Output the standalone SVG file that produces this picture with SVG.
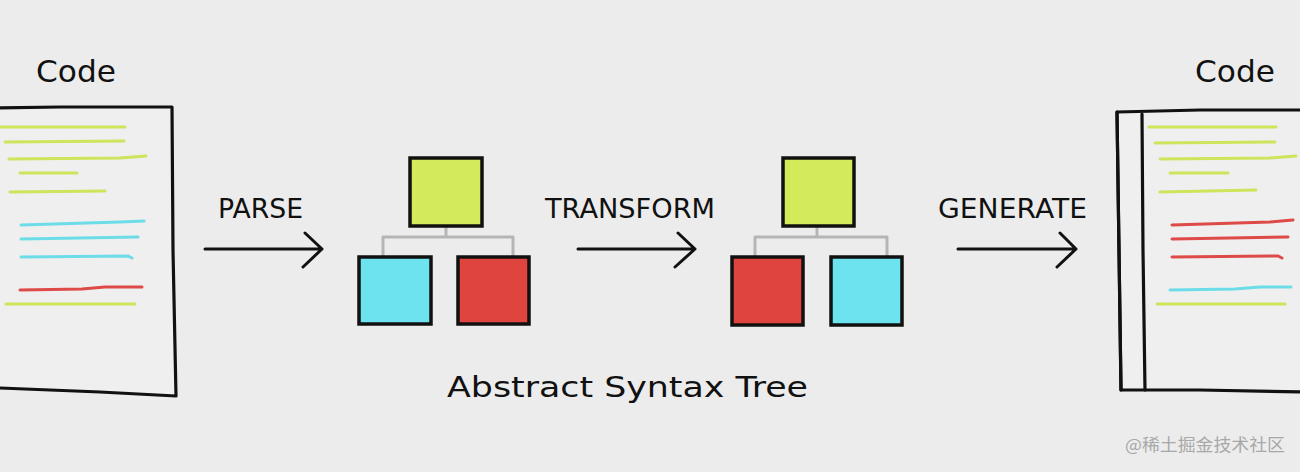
<svg xmlns="http://www.w3.org/2000/svg" width="1300" height="472" viewBox="0 0 1300 472">
<style>
.bg{fill:#ececec}
.doc{fill:#efefef;stroke:#111;stroke-width:3.2;stroke-linejoin:round;stroke-linecap:round}
.ln{fill:none;stroke-width:3;stroke-linecap:round}
.y{stroke:#cfe35b}
.c{stroke:#6cdde8}
.r{stroke:#dd4a47}
.sq{stroke:#111;stroke-width:3.5}
.fy{fill:#d3ea5b}
.fc{fill:#6ce3ee}
.fr{fill:#e0443f}
.tree{fill:none;stroke:#b5b5b5;stroke-width:3;stroke-linejoin:round}
.arr{fill:none;stroke:#111;stroke-width:3;stroke-linecap:round;stroke-linejoin:round}
.t{font-family:"DejaVu Sans","Liberation Sans",sans-serif;fill:#111}
.wm{font-family:"Noto Sans CJK SC","Noto Sans",sans-serif;fill:#a8a8a8;font-size:17px}
</style>
<rect class="bg" width="1300" height="472"/>

<g id="code-left">
<path class="doc" d="M-4,108 L60,107 L172,107 L173,250 L176,396 L100,392 L0,388 L-4,388 Z"/>
<path class="ln y" d="M0,127 L125,127"/>
<path class="ln y" d="M5,142 L124,141"/>
<path class="ln y" d="M9,159 L120,158 L146,156"/>
<path class="ln y" d="M20,173 L77,173"/>
<path class="ln y" d="M10,192 L105,191"/>
<path class="ln c" d="M21,225 L120,222 L144,221"/>
<path class="ln c" d="M21,239 L138,237"/>
<path class="ln c" d="M21,257 L128,256 L132,258"/>
<path class="ln r" d="M20,290 L82,289 L105,287 L142,287"/>
<path class="ln y" d="M6,304 L135,304"/>
<text class="t" x="36" y="82" font-size="30" textLength="80" lengthAdjust="spacingAndGlyphs">Code</text>
</g>

<g id="code-right">
<path class="doc" d="M1117,112 L1200,110 L1304,110 L1304,392 L1200,390 L1121,390 Z"/>
<path class="doc" d="M1117,112 L1119,250 L1121,390" fill="none"/>
<path class="doc" d="M1142,114 L1143,250 L1145,390" fill="none"/>
<path class="ln y" d="M1149,127 L1276,127"/>
<path class="ln y" d="M1155,143 L1275,142"/>
<path class="ln y" d="M1160,159 L1270,158 L1296,156"/>
<path class="ln y" d="M1170,173 L1228,173"/>
<path class="ln y" d="M1160,192 L1256,190"/>
<path class="ln r" d="M1172,225 L1270,222 L1293,220"/>
<path class="ln r" d="M1172,239 L1288,237"/>
<path class="ln r" d="M1172,257 L1278,256 L1282,258"/>
<path class="ln c" d="M1170,290 L1235,289 L1260,287 L1291,287"/>
<path class="ln y" d="M1157,304 L1285,304"/>
<text class="t" x="1195" y="82" font-size="30" textLength="80" lengthAdjust="spacingAndGlyphs">Code</text>
</g>

<g id="ast-1">
<path class="tree" d="M446,226 L446,237 M383,257 L383,237 L513,237 L513,257"/>
<rect class="sq fy" x="410" y="158" width="72" height="68"/>
<rect class="sq fc" x="359" y="257" width="72" height="67"/>
<rect class="sq fr" x="458" y="257" width="71" height="67"/>
</g>

<g id="ast-2">
<path class="tree" d="M817,226 L817,237 M755,257 L755,237 L887,237 L887,257"/>
<rect class="sq fy" x="783" y="158" width="71" height="68"/>
<rect class="sq fr" x="732" y="257" width="71" height="68"/>
<rect class="sq fc" x="831" y="257" width="71" height="68"/>
</g>

<g id="connectors">
<path class="arr" d="M205,249 L322,249 M305,233 L322,249 L303,267"/>
<path class="arr" d="M578,249 L695,249 M678,233 L695,249 L675,267"/>
<path class="arr" d="M958,249 L1076,249 M1060,233 L1076,249 L1057,267"/>
<text class="t" x="218" y="218" font-size="27" textLength="85" lengthAdjust="spacingAndGlyphs">PARSE</text>
<text class="t" x="545" y="218" font-size="27" textLength="170" lengthAdjust="spacingAndGlyphs">TRANSFORM</text>
<text class="t" x="938" y="218" font-size="27" textLength="149" lengthAdjust="spacingAndGlyphs">GENERATE</text>
</g>

<g id="label">
<text class="t" x="447" y="397" font-size="29" textLength="361" lengthAdjust="spacingAndGlyphs">Abstract Syntax Tree</text>
</g>

<text class="wm" x="1125" y="451" textLength="160" lengthAdjust="spacingAndGlyphs">@稀土掘金技术社区</text>
</svg>
